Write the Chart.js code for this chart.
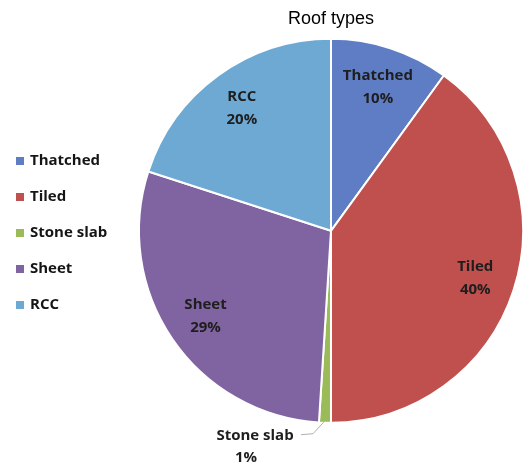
<!DOCTYPE html>
<html>
<head>
<meta charset="utf-8">
<script src="https://cdn.jsdelivr.net/npm/chart.js@4/dist/chart.umd.min.js"></script>
<style>
  body { margin: 0; background: #fff; }
  canvas { display: block; }
</style>
</head>
<body>
<canvas id="roofChart" width="525" height="466"></canvas>
<script>
const roofTypes = ['Thatched', 'Tiled', 'Stone slab', 'Sheet', 'RCC'];
const roofShare = [10, 40, 1, 29, 20];
const roofColors = ['#5f7dc4', '#c0504d', '#9bbb59', '#8064a2', '#6ea9d4'];

const labelFont = 'bold 15px "Open Sans", sans-serif';

// percent labels sitting inside each slice; tiny slices get a leader line
const sliceLabels = {
    id: 'sliceLabels',
    afterDatasetsDraw(chart) {
        const ctx = chart.ctx;
        const meta = chart.getDatasetMeta(0);
        ctx.save();
        ctx.font = labelFont;
        ctx.fillStyle = '#1e1e1e';
        ctx.textAlign = 'center';
        ctx.textBaseline = 'middle';
        meta.data.forEach((arc, i) => {
            const p = arc.getProps(['x', 'y', 'startAngle', 'endAngle', 'outerRadius'], true);
            const mid = (p.startAngle + p.endAngle) / 2;
            const name = roofTypes[i];
            const pct = roofShare[i] + '%';
            if (roofShare[i] < 5) {
                const ax = p.x + (p.outerRadius - 2) * Math.cos(mid);
                const ay = p.y + (p.outerRadius - 2) * Math.sin(mid);
                ctx.strokeStyle = '#b0b0b0';
                ctx.lineWidth = 1;
                ctx.beginPath();
                ctx.moveTo(ax, ay);
                ctx.lineTo(ax - 12, ay + 13);
                ctx.lineTo(ax - 24, ay + 14);
                ctx.stroke();
                ctx.fillText(name, ax - 70, ay + 15);
                ctx.fillText(pct, ax - 79, ay + 37);
            } else {
                const r = p.outerRadius * 0.79;
                const cx = p.x + r * Math.cos(mid);
                const cy = p.y + r * Math.sin(mid);
                ctx.fillText(name, cx, cy - 11);
                ctx.fillText(pct, cx, cy + 12);
            }
        });
        ctx.restore();
    }
};

// legend drawn in the left margin
const sideLegend = {
    id: 'sideLegend',
    afterDraw(chart) {
        const ctx = chart.ctx;
        ctx.save();
        ctx.font = labelFont;
        ctx.textAlign = 'left';
        ctx.textBaseline = 'middle';
        roofTypes.forEach((name, i) => {
            const y = 161 + i * 36;
            ctx.fillStyle = roofColors[i];
            ctx.fillRect(16, y - 4, 8, 8);
            ctx.fillStyle = '#151515';
            ctx.fillText(name, 30, y);
        });
        ctx.restore();
    }
};

new Chart(document.getElementById('roofChart'), {
    type: 'pie',
    data: {
        labels: roofTypes,
        datasets: [{
            data: roofShare,
            backgroundColor: roofColors,
            borderColor: '#ffffff',
            borderWidth: 2
        }]
    },
    options: {
        responsive: false,
        animation: false,
        layout: {
            padding: { left: 138, right: 1, top: 0, bottom: 42 }
        },
        plugins: {
            legend: { display: false },
            tooltip: { enabled: false },
            title: {
                display: true,
                text: 'Roof types',
                color: '#000',
                font: { family: '"Liberation Sans", Arial, sans-serif', size: 18, weight: 'normal' },
                padding: { top: 8, bottom: 8 }
            }
        }
    },
    plugins: [sliceLabels, sideLegend]
});
</script>
</body>
</html>
